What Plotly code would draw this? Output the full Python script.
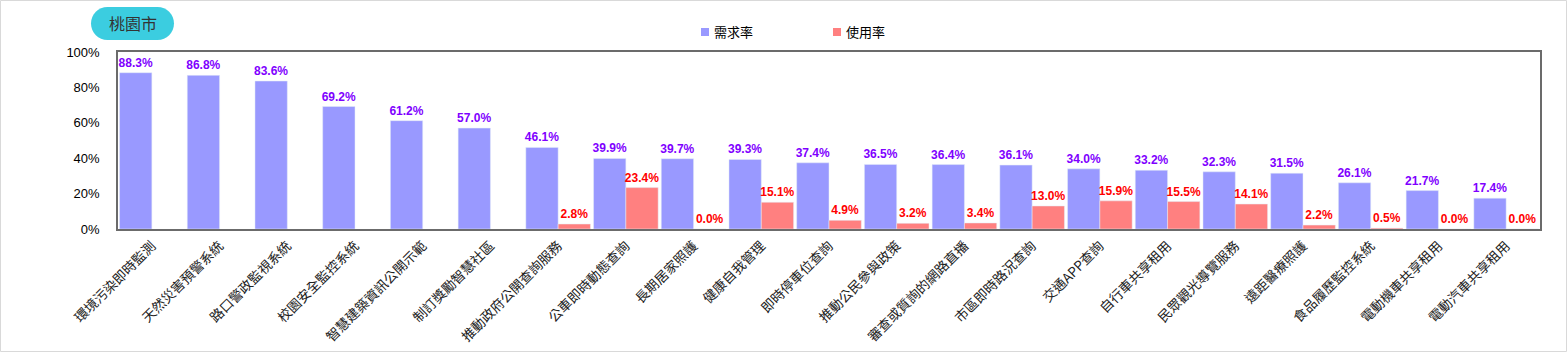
import plotly.graph_objects as go

categories = ["環境污染即時監測", "天然災害預警系統", "路口警政監視系統", "校園安全監控系統",
              "智慧建築資訊公開示範", "制訂獎勵智慧社區", "推動政府公開查詢服務", "公車即時動態查詢",
              "長期居家照護", "健康自我管理", "即時停車位查詢", "推動公民參與政策",
              "審查或質詢的網路直播", "市區即時路況查詢", "交通APP查詢", "自行車共享租用",
              "民眾觀光導覽服務", "遠距醫療照護", "食品履歷監控系統", "電動機車共享租用",
              "電動汽車共享租用"]
demand = [88.3, 86.8, 83.6, 69.2, 61.2, 57.0, 46.1, 39.9, 39.7, 39.3, 37.4, 36.5,
          36.4, 36.1, 34.0, 33.2, 32.3, 31.5, 26.1, 21.7, 17.4]
usage = [None, None, None, None, None, None, 2.8, 23.4, 0.0, 15.1, 4.9, 3.2,
         3.4, 13.0, 15.9, 15.5, 14.1, 2.2, 0.5, 0.0, 0.0]
y_ticks = [0, 20, 40, 60, 80, 100]
title_text = "桃園市"
series_names = ["需求率", "使用率"]
series_colors = ["#9999FF", "#FF8080"]

W, H = 1567, 352
L, R, T, B = 118, 1540, 52, 229
pw, ph = R - L, B - T

def px(x):
    return (x - L) / pw

def py(y):
    return (B - y) / ph

num_font = "Liberation Sans, Arial, sans-serif"
cjk_font = "Noto Sans CJK TC, sans-serif"

fig = go.Figure()
fig.add_trace(go.Bar(
    x=categories, y=demand, name=series_names[0], marker_color=series_colors[0],
    text=[f"{v:.1f}%" for v in demand], textposition="outside",
    textfont=dict(color="#7F00FF", size=12, family=num_font, weight="bold"),
    cliponaxis=False, constraintext="none",
))
fig.add_trace(go.Bar(
    x=categories, y=usage, name=series_names[1], marker_color=series_colors[1],
    text=[("" if v is None else f"{v:.1f}%") for v in usage], textposition="outside",
    textfont=dict(color="#FF0000", size=12, family=num_font, weight="bold"),
    cliponaxis=False, constraintext="none",
))

# title pill
x0, x1, y0, y1 = 91, 174, 7, 40
r = (y1 - y0) / 2
k = 0.5523 * r
def P(x, y):
    return f"{px(x)},{py(y)}"
path = (f"M {P(x0 + r, y0)} L {P(x1 - r, y0)} "
        f"C {P(x1 - r + k, y0)} {P(x1, y0 + r - k)} {P(x1, y0 + r)} "
        f"C {P(x1, y0 + r + k)} {P(x1 - r + k, y1)} {P(x1 - r, y1)} "
        f"L {P(x0 + r, y1)} "
        f"C {P(x0 + r - k, y1)} {P(x0, y0 + r + k)} {P(x0, y0 + r)} "
        f"C {P(x0, y0 + r - k)} {P(x0 + r - k, y0)} {P(x0 + r, y0)} Z")

shapes = [
    dict(type="rect", xref="paper", yref="paper",
         x0=px(0.5), x1=px(W - 0.5), y0=py(H - 0.5), y1=py(0.5),
         line=dict(color="#D9D9D9", width=1), fillcolor="rgba(0,0,0,0)", layer="below"),
    dict(type="path", xref="paper", yref="paper", path=path,
         fillcolor="#3BCDE0", line=dict(width=0)),
]
annotations = [
    dict(text=title_text, xref="paper", yref="paper", x=px((x0 + x1) / 2), y=py((y0 + y1) / 2),
         showarrow=False, xanchor="center", yanchor="middle",
         font=dict(size=16, family=cjk_font, color="#333")),
]

# manual legend
leg_x = [701, 833]
leg_y = 32
for name, color, lx in zip(series_names, series_colors, leg_x):
    shapes.append(dict(type="rect", xref="paper", yref="paper",
                       x0=px(lx), x1=px(lx + 8), y0=py(leg_y + 4), y1=py(leg_y - 4),
                       fillcolor=color, line=dict(width=0)))
    annotations.append(dict(text=name, xref="paper", yref="paper", x=px(lx + 11), y=py(leg_y),
                            showarrow=False, xanchor="left", yanchor="middle",
                            font=dict(size=13, family=cjk_font, color="#000")))

fig.update_layout(
    width=W, height=H,
    margin=dict(l=L, r=W - R, t=T, b=H - B, pad=0, autoexpand=False),
    paper_bgcolor="white", plot_bgcolor="white",
    barmode="group", bargap=0.046, bargroupgap=0,
    showlegend=False,
    xaxis=dict(tickangle=-45, tickfont=dict(size=13.5, family=cjk_font, color="#222"),
               showline=True, linecolor="#6b6b6b", linewidth=1.5, mirror=True,
               ticks="", showgrid=False, ticklabelstandoff=2, automargin=False),
    yaxis=dict(range=[0, 100], tickvals=y_ticks, ticktext=[f"{v}%" for v in y_ticks],
               tickfont=dict(size=13, family=num_font, color="#000"),
               showline=True, linecolor="#6b6b6b", linewidth=1.5, mirror=True,
               ticks="", showgrid=False, zeroline=False, ticklabelstandoff=14,
               automargin=False),
    shapes=shapes,
    annotations=annotations,
)

fig.write_html("out.html")
